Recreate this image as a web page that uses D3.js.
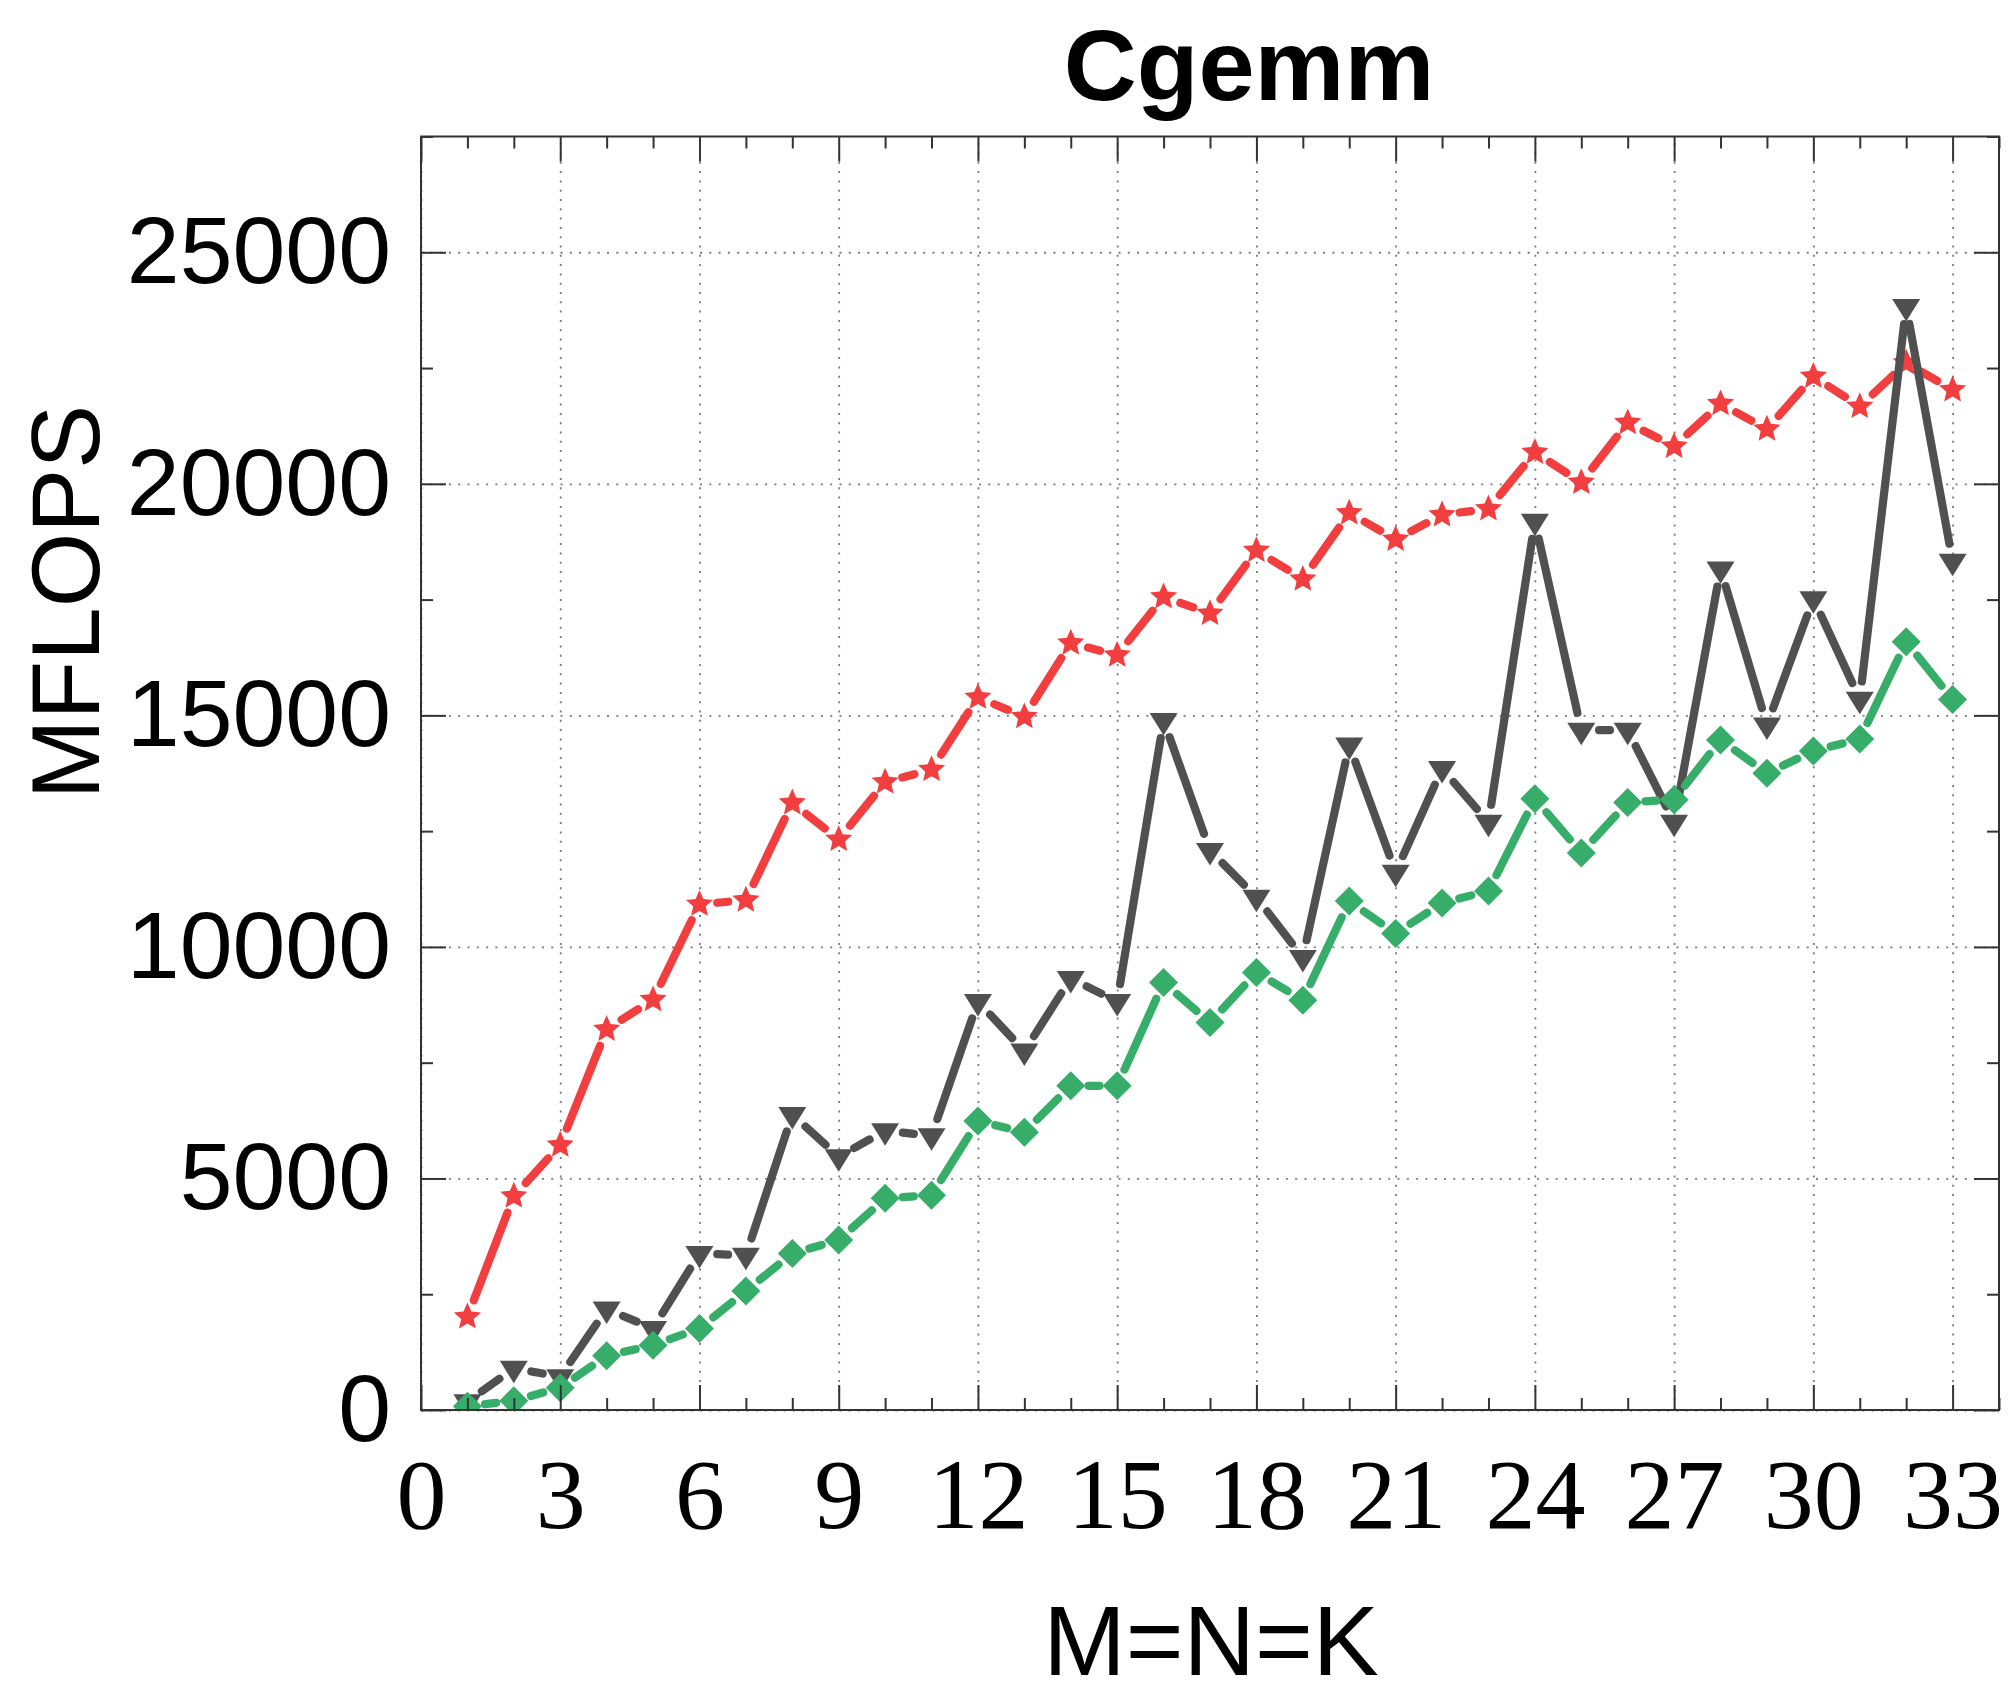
<!DOCTYPE html>
<html>
<head>
<meta charset="utf-8">
<script src="https://cdn.jsdelivr.net/npm/d3@7"></script>
<style>
body { margin: 0; background: #fff; }
</style>
</head>
<body>
<svg id="chart" width="2010" height="1701"></svg>
<script>
// matrix size M=N=K
var sizes = [1,2,3,4,5,6,7,8,9,10,11,12,13,14,15,16,17,18,19,20,21,22,23,24,25,26,27,28,29,30,31,32,33];

// MFLOPS for each implementation
var redStar = [2010, 4620, 5720, 8220, 8860, 10920, 11010, 13110, 12320, 13560, 13830,
               15390, 14970, 16560, 16300, 17560, 17200, 18560, 17940, 19370, 18800, 19330,
               19460, 20680, 20030, 21320, 20810, 21730, 21180, 22320, 21670, 22610, 22030];
var grayTri = [180, 900, 720, 2180, 1760, 3380, 3340, 6380, 5470, 6030, 5920,
               8820, 7750, 9320, 8820, 14890, 12080, 11070, 9770, 14360, 11610, 13850,
               12690, 19190, 14680, 14680, 12690, 18160, 14790, 17520, 15350, 23830, 18330];
var greenDia = [80, 200, 480, 1170, 1400, 1760, 2570, 3380, 3670, 4570, 4640,
                6240, 6000, 7000, 7000, 9230, 8370, 9450, 8850, 10990, 10290, 10950,
                11210, 13200, 12030, 13120, 13180, 14470, 13750, 14230, 14490, 16590, 15340];

// ticks
var xTicks = [0,3,6,9,12,15,18,21,24,27,30,33];
var xMinor = [1,2,4,5,7,8,10,11,13,14,16,17,19,20,22,23,25,26,28,29,31,32,34];
var yTicks = [0,5000,10000,15000,20000,25000];
var yMinor = [2500,7500,12500,17500,22500,27500];

var svg = d3.select("#chart");

var margin = {left: 421, right: 11, top: 136.5, bottom: 291};
var width = 2010 - margin.left - margin.right;
var height = 1701 - margin.top - margin.bottom;

var x = d3.scaleLinear().domain([0, 34]).range([0, width]);
var y = d3.scaleLinear().domain([0, 27500]).range([height, 0]);

var g = svg.append("g")
    .attr("transform", "translate(" + margin.left + "," + margin.top + ")");

// grid
var gridX = g.append("g")
    .attr("transform", "translate(0," + height + ")")
    .call(d3.axisBottom(x).tickValues(xTicks).tickSize(-height).tickFormat(""));
var gridY = g.append("g")
    .call(d3.axisLeft(y).tickValues(yTicks).tickSize(-width).tickFormat(""));
[gridX, gridY].forEach(function(a) {
    a.select(".domain").remove();
    a.selectAll("line")
        .attr("stroke", "#7a7a7a")
        .attr("stroke-width", 1.8)
        .attr("stroke-dasharray", "2,7.3");
});

g.append("clipPath").attr("id", "clip")
  .append("rect").attr("width", width).attr("height", height);

var plot = g.append("g").attr("clip-path", "url(#clip)");

// marker shapes
var triPath = "M-14,-7.5L14,-7.5L0,15Z";
var diaPath = "M0,-14.5L14.5,0L0,14.5L-14.5,0Z";
var starPath = (function() {
    var pts = [];
    for (var k = 0; k < 10; k++) {
        var r = k % 2 ? 6.6 : 14.3;
        var a = -Math.PI / 2 + k * Math.PI / 5;
        pts.push([r * Math.cos(a), r * Math.sin(a)]);
    }
    return "M" + pts.join("L") + "Z";
})();

// lines with a gap around each point, then points
function drawSeries(vals, color, shape) {
    var pts = sizes.map(function(s, i) { return [x(s), y(vals[i])]; });
    var gap = 17.8;
    var segs = d3.pairs(pts).map(function(p) {
        var dx = p[1][0] - p[0][0], dy = p[1][1] - p[0][1];
        var len = Math.sqrt(dx * dx + dy * dy);
        if (len < 2 * gap + 1) return null;
        var ux = dx / len, uy = dy / len;
        return [p[0][0] + ux * gap, p[0][1] + uy * gap, p[1][0] - ux * gap, p[1][1] - uy * gap];
    }).filter(function(d) { return d; });

    var s = plot.append("g");
    s.selectAll("line").data(segs).enter().append("line")
        .attr("x1", function(d) { return d[0]; })
        .attr("y1", function(d) { return d[1]; })
        .attr("x2", function(d) { return d[2]; })
        .attr("y2", function(d) { return d[3]; })
        .attr("stroke", color)
        .attr("stroke-width", 8.2)
        .attr("stroke-linecap", "round");
    s.selectAll("path").data(pts).enter().append("path")
        .attr("d", shape)
        .attr("transform", function(d) { return "translate(" + d[0] + "," + d[1] + ")"; })
        .attr("fill", color);
}

drawSeries(redStar, "#f23e3e", starPath);
drawSeries(grayTri, "#505050", triPath);
drawSeries(greenDia, "#37ad6a", diaPath);

// border
g.append("rect")
    .attr("width", width).attr("height", height)
    .attr("fill", "none").attr("stroke", "#333").attr("stroke-width", 2);

// inward ticks on all four sides
function ticks(axis, vals, size, tr) {
    var a = g.append("g").attr("transform", tr || null)
        .call(axis.tickValues(vals).tickSize(-size).tickFormat(""));
    a.select(".domain").remove();
    a.selectAll("line").attr("stroke", "#333").attr("stroke-width", 2);
}
ticks(d3.axisBottom(x), xTicks, 25, "translate(0," + height + ")");
ticks(d3.axisBottom(x), xMinor, 12, "translate(0," + height + ")");
ticks(d3.axisTop(x), xTicks, 25);
ticks(d3.axisTop(x), xMinor, 12);
ticks(d3.axisLeft(y), yTicks, 25);
ticks(d3.axisLeft(y), yMinor, 12);
ticks(d3.axisRight(y), yTicks, 25, "translate(" + width + ",0)");
ticks(d3.axisRight(y), yMinor, 12, "translate(" + width + ",0)");

// tick labels
var xLab = g.append("g")
    .attr("transform", "translate(0," + height + ")")
    .call(d3.axisBottom(x).tickValues(xTicks).tickSize(0).tickPadding(47));
xLab.select(".domain").remove();
xLab.selectAll("text")
    .attr("font-family", "'Liberation Serif', 'Times New Roman', serif")
    .attr("font-size", 100)
    .attr("fill", "#000");

var yLab = g.append("g")
    .call(d3.axisLeft(y).tickValues(yTicks).tickSize(0).tickPadding(30).tickFormat(d3.format("d")));
yLab.select(".domain").remove();
yLab.selectAll("text")
    .attr("font-family", "'Liberation Sans', Arial, sans-serif")
    .attr("font-size", 95)
    .attr("fill", "#000");

// titles
svg.append("text")
    .attr("x", 1249).attr("y", 100)
    .attr("text-anchor", "middle")
    .attr("font-family", "'Liberation Sans', Arial, sans-serif")
    .attr("font-weight", "bold")
    .attr("font-size", 101)
    .text("Cgemm");

svg.append("text")
    .attr("x", 1211).attr("y", 1675)
    .attr("text-anchor", "middle")
    .attr("font-family", "'Liberation Sans', Arial, sans-serif")
    .attr("font-size", 99)
    .text("M=N=K");

svg.append("text")
    .attr("transform", "translate(99,602) rotate(-90)")
    .attr("text-anchor", "middle")
    .attr("font-family", "'Liberation Sans', Arial, sans-serif")
    .attr("font-size", 96)
    .text("MFLOPS");
</script>
</body>
</html>
